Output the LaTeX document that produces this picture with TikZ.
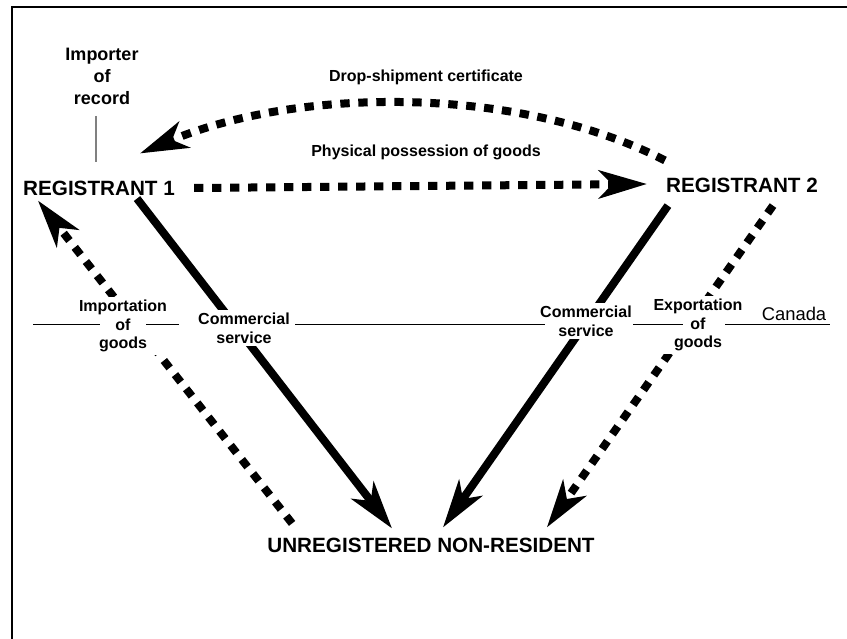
\documentclass[tikz,border=0pt]{standalone}
\usepackage{fontspec}
\setmainfont{Liberation Sans}
\usetikzlibrary{arrows.meta,calc}

\begin{document}
\begin{tikzpicture}[x=0.75pt,y=-0.75pt,
  party/.style={inner sep=1.5pt,font=\bfseries\fontsize{15.5}{18}\selectfont},
  tag/.style={inner sep=2pt,align=center,fill=white,font=\bfseries\fontsize{12}{14}\selectfont},
  caption/.style={inner sep=1pt,font=\bfseries\fontsize{12}{14}\selectfont},
  flow/.style={line width=6pt,-{Stealth[length=36pt,width=21pt,inset=10pt]}},
  goods/.style={flow,dash pattern=on 7pt off 6.5pt},
  border/.style={line width=1.5pt},
  rule/.style={line width=0.7pt}]
\path[use as bounding box] (0,0) rectangle (847,639);
\draw[border] (12,639) -- (12,7) -- (847,7);
% the three parties
\node[party] (r1) at (99,188) {REGISTRANT 1};
\node[party] (r2) at (742,185) {REGISTRANT 2};
\node[party] (urn) at (431,545) {UNREGISTERED NON-RESIDENT};
\node[inner sep=1pt,align=center,font=\bfseries\fontsize{13.5}{16.5}\selectfont] (ior) at (102,76) {Importer\\of\\record};
\draw[black!50,line width=0.8pt] ($(ior.south)+(-6,10)$) -- ($(r1.north)+(-3,-16)$);
% flows
\draw[flow] ($(r1.south)+(38,1)$) -- ($(urn.north)+(-39,-7)$);
\draw[flow] ($(r2.south west)+(4,11)$) -- ($(urn.north)+(12,-8)$);
\draw[goods] ($(r2.south)+(31,11)$) -- ($(urn.north east)+(-50,-8)$);
\draw[goods] ($(urn.north west)+(27,-12)$) -- ($(r1.south west)+(17,3)$);
\draw[goods] ($(r1.east)+(17,0)$) -- ($(r2.west)+(-17,-1)$);
\draw[goods] ($(r2.north west)+(1,-15)$) .. controls (520,86) and (300,86) .. ($(r1.north)+(41,-25)$);
\node[caption] (ship) at (426,77) {Drop-shipment certificate};
\node[caption] (poss) at (426,152) {Physical possession of goods};
% labels on the border
\node[tag] (imp) at (123,326) {Importation\\of\\goods};
\node[tag] (cs1) at (244,328) {Commercial\\service};
\node[tag] (cs2) at (586,321) {Commercial\\service};
\node[tag] (exp) at (698,325) {Exportation\\of\\goods};
\node[inner sep=1pt,font=\fontsize{13.8}{16}\selectfont] (can) at (794,314) {Canada};
\draw[rule] (33,324) -- (100,324) (146,324) -- (179,324) (295,324) -- (545,324)
  (633,324) -- (683,324) (725,324) -- (830,324);
\end{tikzpicture}
\end{document}
